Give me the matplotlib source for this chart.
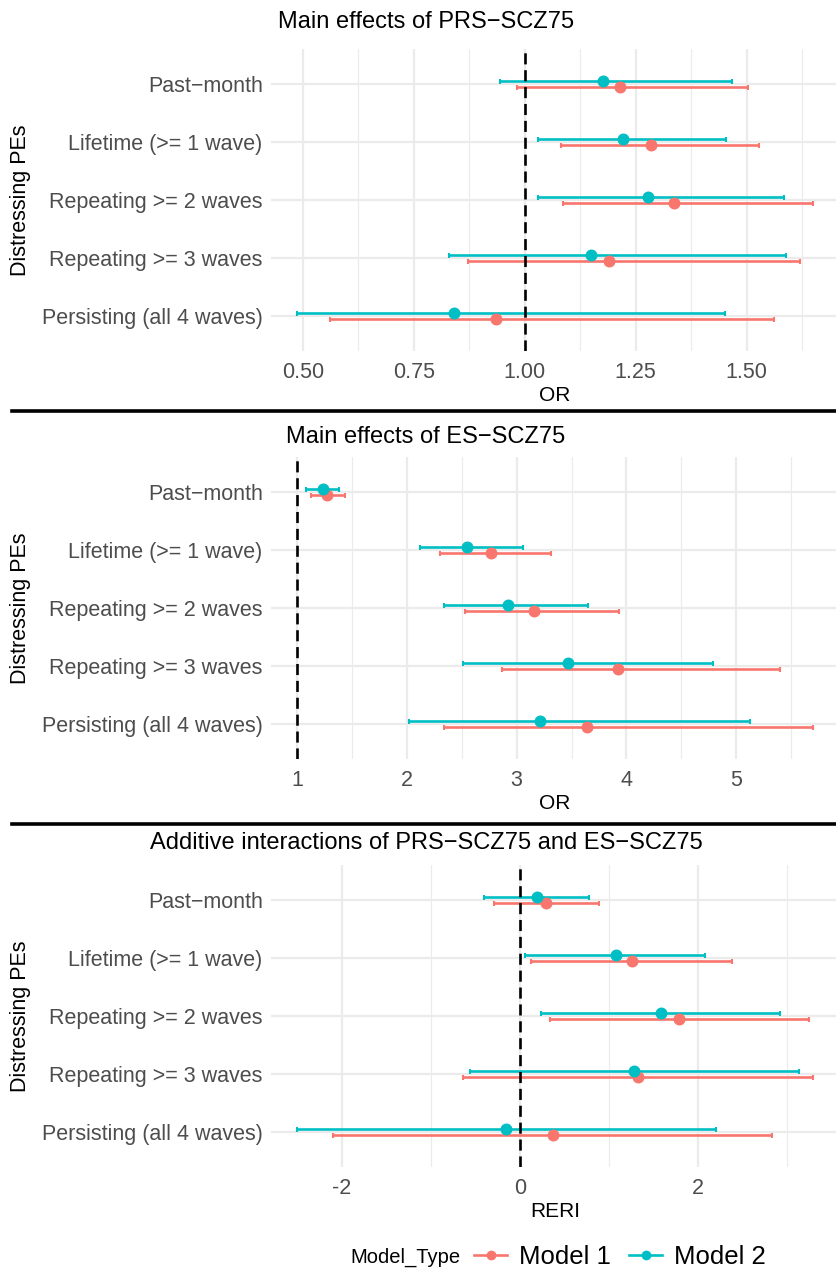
from __future__ import annotations

import matplotlib

matplotlib.use("Agg")

import matplotlib.pyplot as plt
import numpy as np
from matplotlib.lines import Line2D

plt.rcParams["font.family"] = ["Liberation Sans", "DejaVu Sans"]

RED = "#F8766D"
TEAL = "#00BFC4"
GRID = "#EBEBEB"
TICK_GREY = "#4D4D4D"

outcomes = [
    "Past\u2212month",
    "Lifetime (>= 1 wave)",
    "Repeating >= 2 waves",
    "Repeating >= 3 waves",
    "Persisting (all 4 waves)",
]

# panel 1: PRS-SCZ75 main effects (OR)
prs_m1_est = [1.215, 1.284, 1.337, 1.189, 0.935]
prs_m1_lo = [0.982, 1.082, 1.085, 0.873, 0.561]
prs_m1_hi = [1.503, 1.527, 1.650, 1.620, 1.561]
prs_m2_est = [1.177, 1.222, 1.277, 1.149, 0.840]
prs_m2_lo = [0.944, 1.030, 1.030, 0.830, 0.486]
prs_m2_hi = [1.466, 1.454, 1.585, 1.588, 1.452]

# panel 2: ES-SCZ75 main effects (OR)
es_m1_est = [1.274, 2.766, 3.157, 3.926, 3.642]
es_m1_lo = [1.130, 2.301, 2.532, 2.863, 2.338]
es_m1_hi = [1.438, 3.314, 3.933, 5.398, 5.699]
es_m2_est = [1.234, 2.548, 2.926, 3.468, 3.217]
es_m2_lo = [1.084, 2.120, 2.338, 2.508, 2.020]
es_m2_hi = [1.385, 3.057, 3.652, 4.786, 5.127]

# panel 3: additive interaction (RERI)
reri_m1_est = [0.298, 1.260, 1.785, 1.331, 0.368]
reri_m1_lo = [-0.293, 0.128, 0.339, -0.636, -2.095]
reri_m1_hi = [0.893, 2.380, 3.244, 3.293, 2.835]
reri_m2_est = [0.190, 1.074, 1.583, 1.285, -0.157]
reri_m2_lo = [-0.397, 0.054, 0.236, -0.562, -2.504]
reri_m2_hi = [0.773, 2.083, 2.921, 3.132, 2.198]

panels = [
    dict(title="Main effects of PRS\u2212SCZ75", xlabel="OR", ref=1.0,
         m1=(prs_m1_est, prs_m1_lo, prs_m1_hi), m2=(prs_m2_est, prs_m2_lo, prs_m2_hi),
         major=[0.5, 0.75, 1.0, 1.25, 1.5], fmt="{:.2f}"),
    dict(title="Main effects of ES\u2212SCZ75", xlabel="OR", ref=1.0,
         m1=(es_m1_est, es_m1_lo, es_m1_hi), m2=(es_m2_est, es_m2_lo, es_m2_hi),
         major=[1, 2, 3, 4, 5], fmt="{:.0f}"),
    dict(title="Additive interactions of PRS\u2212SCZ75 and ES\u2212SCZ75", xlabel="RERI", ref=0.0,
         m1=(reri_m1_est, reri_m1_lo, reri_m1_hi), m2=(reri_m2_est, reri_m2_lo, reri_m2_hi),
         major=[-2, 0, 2], fmt="{:.0f}"),
]

W, H = 837, 1272
fig = plt.figure(figsize=(W / 100, H / 100), dpi=100)

AX_LEFT, AX_RIGHT = 271, 839
panel_tops = [49, 457, 865]
title_ys = [22, 437, 843]
PANEL_H = 302


def _draw_panel(ax, spec):
    y = np.arange(1, len(outcomes) + 1)
    lows = list(spec["m1"][1]) + list(spec["m2"][1]) + [spec["ref"]]
    highs = list(spec["m1"][2]) + list(spec["m2"][2]) + [spec["ref"]]
    lo, hi = min(lows), max(highs)
    pad = 0.05 * (hi - lo)

    major = spec["major"]
    step = major[1] - major[0]
    minor = [major[0] - step / 2] + [m + step / 2 for m in major]
    ax.set_xticks(major)
    ax.set_xticklabels([spec["fmt"].format(v) for v in major])
    ax.set_xticks(minor, minor=True)
    ax.set_yticks(y)
    ax.set_yticklabels(outcomes)
    # limits after the ticks, otherwise set_xticks widens them
    ax.set_xlim(lo - pad, hi + pad)
    ax.set_ylim(len(outcomes) + 0.6, 0.4)

    ax.grid(True, which="major", color=GRID, linewidth=1.6)
    ax.grid(True, which="minor", axis="x", color=GRID, linewidth=0.8)
    ax.set_axisbelow(True)
    for side in ax.spines.values():
        side.set_visible(False)
    ax.tick_params(which="both", length=0)
    ax.tick_params(axis="y", labelsize=15.5, labelcolor=TICK_GREY, pad=6)
    ax.tick_params(axis="x", labelsize=15.5, labelcolor=TICK_GREY, pad=8)

    for (est, lo_, hi_), color, off in [(spec["m1"], RED, 0.055), (spec["m2"], TEAL, -0.05)]:
        est = np.asarray(est)
        err = np.vstack([est - np.asarray(lo_), np.asarray(hi_) - est])
        ax.errorbar(est, y + off, xerr=err, fmt="o", color=color, ecolor=color,
                    markersize=7.6, elinewidth=1.9, capsize=1.8, capthick=1.5, zorder=3)
    ax.axvline(spec["ref"], color="black", linestyle=(0, (4.2, 2.2)), linewidth=1.9, zorder=4)

    ax.set_xlabel(spec["xlabel"], fontsize=15, labelpad=2)
    ax.set_ylabel("Distressing PEs", fontsize=15.5, labelpad=8)


for spec, top, ty in zip(panels, panel_tops, title_ys):
    ax = fig.add_axes([AX_LEFT / W, 1 - (top + PANEL_H) / H, (AX_RIGHT - AX_LEFT) / W, PANEL_H / H])
    _draw_panel(ax, spec)
    fig.text(426 / W, 1 - ty / H, spec["title"], ha="center", va="center", fontsize=17)

for sep_y in [411, 824]:
    fig.add_artist(Line2D([12 / W, 1.0], [1 - sep_y / H] * 2, color="black", linewidth=2.6))

# legend: title and keys on one row, ggplot style
LEG_Y = 1 - 1257 / H
fig.text(350 / W, LEG_Y, "Model_Type", ha="left", va="center", fontsize=14.5)
handles = [
    Line2D([], [], color=RED, marker="o", markersize=6, linewidth=1.9),
    Line2D([], [], color=TEAL, marker="o", markersize=6, linewidth=1.9),
]
fig.legend(handles, ["Model 1", "Model 2"], loc="center left",
           bbox_to_anchor=(474 / W, LEG_Y), ncol=2, frameon=False,
           borderaxespad=0, borderpad=0, fontsize=18.5, handlelength=1.3,
           columnspacing=0.7, handletextpad=0.45)

fig.savefig("out.png", dpi=100)
